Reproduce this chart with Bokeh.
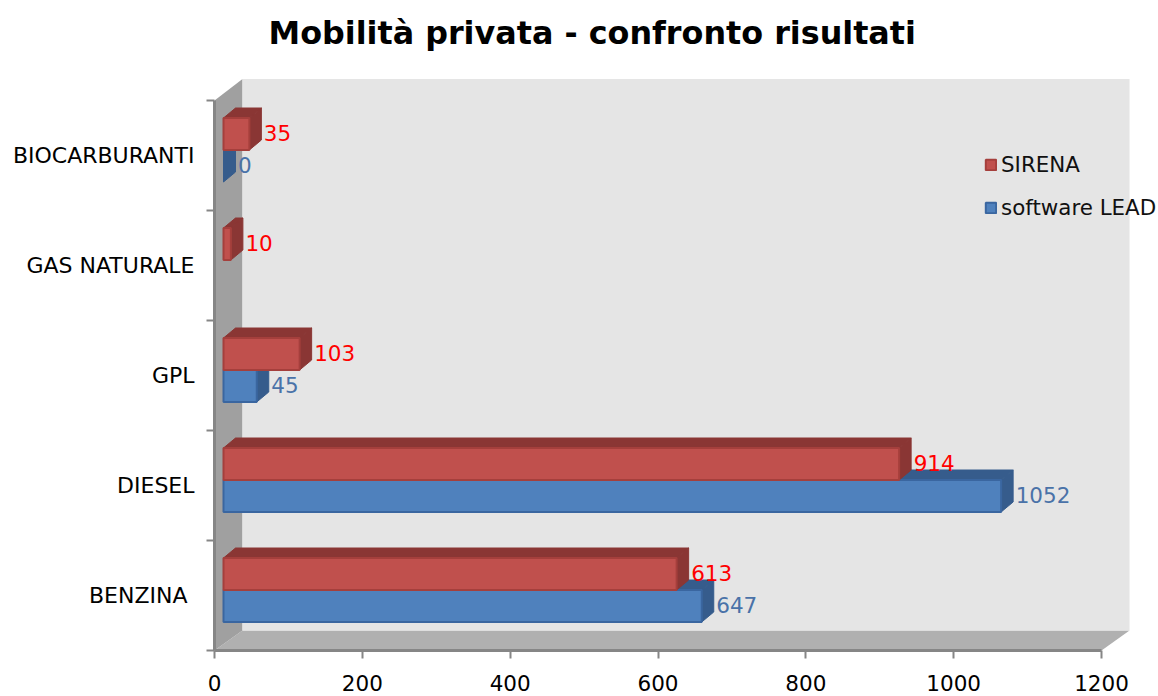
from bokeh.plotting import figure
from bokeh.models import ColumnDataSource, FixedTicker, Legend, LegendItem, Range1d
from bokeh.core.properties import value
from bokeh.embed import file_html
from bokeh.resources import INLINE

categories = ["BENZINA\u00a0", "DIESEL", "GPL", "GAS NATURALE", "BIOCARBURANTI"]
sirena = [613, 914, 103, 10, 35]
software_lead = [647, 1052, 45, None, 0]
x_ticks = [0, 200, 400, 600, 800, 1000, 1200]

FONT = "DejaVu Sans"
W, H = 1158, 696
LEFT, BOTTOM, TOP = 214, 46, 60
FRAME_W = W - LEFT
FRAME_H = H - BOTTOM - TOP
UX = 0.7392   # px per value unit
UY = 110.0    # px per category
XMAX, N = 1200, len(categories)

p = figure(width=W, height=H, output_backend="svg", toolbar_location=None,
           x_range=Range1d(0, FRAME_W / UX),
           y_range=Range1d(-0.5, -0.5 + FRAME_H / UY),
           min_border_left=LEFT, min_border_bottom=BOTTOM, min_border_top=TOP, min_border_right=0,
           title="Mobilità privata - confronto risultati")
p.outline_line_color = None
p.grid.visible = False
p.background_fill_color = "white"
p.title.text_font = FONT
p.title.text_font_size = "31.8px"
p.title.text_font_style = "bold"
p.title.text_color = "black"
p.title.align = "left"
p.title.offset = 54
p.title.standoff = 19

# walls
wdx, wdy = 28 / UX, 20 / UY
wall_top = 1.5 / UY
lo, hi = -0.5, N - 0.5
p.patch([0, XMAX, XMAX + wdx, wdx], [lo, lo, lo + wdy, lo + wdy], fill_color="#B0B0B0", line_color=None)
p.patch([0, wdx, wdx, 0], [lo, lo + wdy, hi + wdy + wall_top, hi], fill_color="#A0A0A0", line_color=None)
p.quad(left=[wdx], right=[XMAX + wdx], bottom=[lo + wdy], top=[hi + wdy + wall_top], fill_color="#E5E5E5", line_color=None)

# bars
x0 = 9 / UX
bar_h = 32 / UY
shift = 5.5 / UY
ddx, ddy = 12 / UX, 10 / UY
label_lift = 1 / UY


def draw(vals, low, front, dark, edge, label_color):
    rows = [(i, v) for i, v in enumerate(vals) if v is not None]
    l, r, b, t, sx, sy, tx, ty = [], [], [], [], [], [], [], []
    for i, v in rows:
        y0 = i + shift + (-bar_h if low else 0)
        y1 = y0 + bar_h
        x1 = x0 + v
        l.append(x0); r.append(x1); b.append(y0); t.append(y1)
        sx.append([x1, x1 + ddx, x1 + ddx, x1]); sy.append([y0, y0 + ddy, y1 + ddy, y1])
        tx.append([x0, x0 + ddx, x1 + ddx, x1]); ty.append([y1, y1 + ddy, y1 + ddy, y1])
    p.patches(tx, ty, fill_color=dark, line_color=dark, line_width=1)
    p.patches(sx, sy, fill_color=dark, line_color=dark, line_width=1)
    kept = [(li, ri, bi, ti) for li, ri, bi, ti in zip(l, r, b, t) if ri > li]
    rend = p.quad(left=[k[0] for k in kept], right=[k[1] for k in kept],
                  bottom=[k[2] for k in kept], top=[k[3] for k in kept],
                  fill_color=front, line_color=edge, line_width=2)
    src = ColumnDataSource(dict(
        x=[x0 + v + ddx + 2.5 / UX for _, v in rows],
        y=[i + shift + label_lift + (-bar_h / 2 if low else bar_h / 2) for i, _ in rows],
        t=[str(v) for _, v in rows]))
    return rend, src, label_color


blue = draw(software_lead, True, "#4F81BD", "#365C8C", "#3A66A0", "#4A72A8")
red = draw(sirena, False, "#C0504D", "#8A3634", "#A53F3C", "#FF0000")
for _, src, col in (blue, red):
    p.text("x", "y", text="t", source=src, text_font=value(FONT), text_font_size="21.5px",
           text_color=col, text_baseline="middle", text_align="left")

# axes
xa = p.xaxis[0]
xa.bounds = (0, XMAX)
xa.ticker = FixedTicker(ticks=x_ticks)
xa.axis_line_color = "#868686"; xa.axis_line_width = 3
xa.major_tick_line_color = "#868686"; xa.major_tick_line_width = 2
xa.major_tick_out = 8; xa.major_tick_in = 0
xa.minor_tick_line_color = None
xa.major_label_text_font = FONT; xa.major_label_text_font_size = "21.5px"
xa.major_label_text_color = "black"; xa.major_label_standoff = 16

ya = p.yaxis[0]
ya.bounds = (lo, hi)
ya.ticker = FixedTicker(ticks=list(range(N)), minor_ticks=[i - 0.5 for i in range(N + 1)])
ya.major_label_overrides = {i: c for i, c in enumerate(categories)}
ya.axis_line_color = "#868686"; ya.axis_line_width = 3
ya.major_tick_line_color = None
ya.major_tick_out = 0; ya.major_tick_in = 0
ya.minor_tick_line_color = "#868686"; ya.minor_tick_line_width = 2
ya.minor_tick_out = 8; ya.minor_tick_in = 0
ya.major_label_text_font = FONT; ya.major_label_text_font_size = "22px"
ya.major_label_text_color = "black"; ya.major_label_standoff = 12

legend = Legend(items=[LegendItem(label="SIRENA", renderers=[red[0]]),
                       LegendItem(label="software LEAD", renderers=[blue[0]])],
                location=(770, 430), padding=0, margin=0, spacing=18,
                glyph_width=13, glyph_height=13, label_standoff=4, label_height=22,
                background_fill_alpha=0, border_line_color=None,
                label_text_font=FONT, label_text_font_size="21.4px", label_text_color="#111111")
p.add_layout(legend)

open("out.html", "w").write(file_html(p, INLINE))
